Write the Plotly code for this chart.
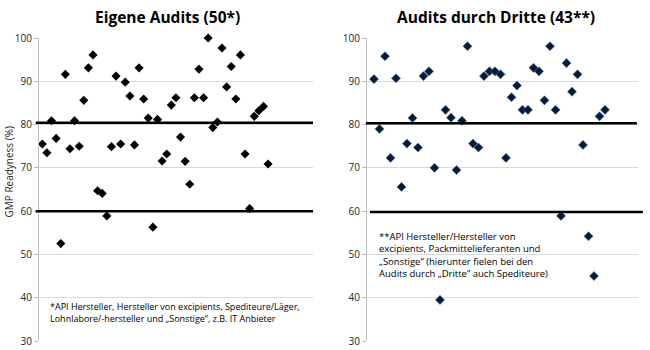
import plotly.graph_objects as go

# ---- data ----
eigene_values = [75.5, 73.5, 80.9, 76.8, 52.5, 91.6, 74.4, 80.9, 75.0, 85.6,
                 93.1, 96.1, 64.7, 64.1, 58.9, 74.9, 91.2, 75.5, 89.8, 86.6,
                 75.3, 93.1, 85.9, 81.5, 56.3, 81.2, 71.6, 73.2, 84.5, 86.2,
                 77.1, 71.5, 66.2, 86.2, 92.8, 86.2, 100.0, 79.3, 80.6, 97.7,
                 88.7, 93.4, 85.9, 96.1, 73.2, 60.6, 81.9, 83.2, 84.2, 70.9]
dritte_values = [90.5, 79.0, 95.8, 72.3, 90.7, 65.6, 75.6, 81.5, 74.7, 91.2,
                 92.3, 70.0, 39.5, 83.4, 81.6, 69.5, 80.9, 98.1, 75.6, 74.7,
                 91.2, 92.3, 92.3, 91.6, 72.3, 86.3, 89.0, 83.4, 83.4, 93.1,
                 92.3, 85.6, 98.1, 83.4, 58.9, 94.2, 87.6, 91.6, 75.3, 54.2,
                 45.0, 81.9, 83.4]
eigene_x = list(range(1, len(eigene_values) + 1))
dritte_x = list(range(1, len(dritte_values) + 1))
threshold_upper = [80.4, 80.3]
threshold_lower = [60.0, 59.8]
y_ticks = [30, 40, 50, 60, 70, 80, 90, 100]
titles = ["Eigene Audits (50*)", "Audits durch Dritte (43**)"]
y_title = "GMP Readyness (%)"
note_left = ("*API Hersteller, Hersteller von excipients, Spediteure/Läger,<br>"
             "Lohnlabore/-hersteller und „Sonstige“, z.B. IT Anbieter")
note_right = ("**API Hersteller/Hersteller von<br>excipients, Packmittelieferanten und<br>"
              "„Sonstige“ (hierunter fielen bei den<br>Audits durch „Dritte“ auch Spediteure)")

FONT = "Open Sans"
fig = go.Figure()
fig.add_trace(go.Scatter(x=eigene_x, y=eigene_values, mode="markers", xaxis="x", yaxis="y",
                         marker=dict(symbol="diamond", size=7, color="black"),
                         cliponaxis=False, showlegend=False))
fig.add_trace(go.Scatter(x=dritte_x, y=dritte_values, mode="markers", xaxis="x2", yaxis="y2",
                         marker=dict(symbol="diamond", size=7, color="#0b1a33",
                                     line=dict(color="#3a78c0", width=0.6)),
                         cliponaxis=False, showlegend=False))

W, H = 650, 350
ydom = [(350 - 341) / H, (350 - 38) / H]
xdom1 = [39 / W, 313 / W]
xdom2 = [367 / W, 638 / W]

yax = dict(range=[30, 100], tickvals=y_ticks, showgrid=True, gridcolor="#d9d9d9",
           gridwidth=1, showline=True, linecolor="#bfbfbf", linewidth=1,
           ticks="outside", ticklen=4, tickcolor="#bfbfbf", automargin=False,
           tickfont=dict(family=FONT, size=10, color="#262626"), zeroline=False,
           domain=ydom)
xax = dict(showgrid=False, showticklabels=False, zeroline=False, showline=False, ticks="",
           automargin=False)

fig.update_layout(
    width=W, height=H, margin=dict(l=0, r=0, t=0, b=0, autoexpand=False),
    paper_bgcolor="white", plot_bgcolor="white",
    xaxis=dict(xax, domain=xdom1, range=[0.28, 59.75]),
    xaxis2=dict(xax, domain=xdom2, range=[-0.27, 49.0]),
    yaxis=dict(yax, anchor="x"),
    yaxis2=dict(yax, anchor="x2"),
    font=dict(family=FONT),
)

# y-axis title (positioned like the reference)
fig.add_annotation(text=y_title, xref="paper", yref="paper", x=8.5 / W, y=1 - 172 / H,
                   xanchor="center", yanchor="middle", textangle=-90, showarrow=False,
                   font=dict(family=FONT, size=10, color="#262626"))

# threshold lines
for i, xr in enumerate(["x domain", "x2 domain"]):
    yr = "y" if i == 0 else "y2"
    ext = [(-0.012, 1.0), (-0.004, 0.996)][i]
    ext2 = [(-0.012, 1.0), (0.011, 1.018)][i]
    fig.add_shape(type="line", xref=xr, yref=yr, x0=ext[0], x1=ext[1],
                  y0=threshold_upper[i], y1=threshold_upper[i],
                  line=dict(color="black", width=2.5))
    fig.add_shape(type="line", xref=xr, yref=yr, x0=ext2[0], x1=ext2[1],
                  y0=threshold_lower[i], y1=threshold_lower[i],
                  line=dict(color="black", width=2.5))

# titles
fig.add_annotation(text="<b>" + titles[0] + "</b>", xref="paper", yref="paper",
                   x=167 / W, y=1 - 17 / H, xanchor="center", yanchor="middle",
                   showarrow=False, font=dict(family=FONT, size=15.5, color="black"))
fig.add_annotation(text="<b>" + titles[1] + "</b>", xref="paper", yref="paper",
                   x=496 / W, y=1 - 17 / H, xanchor="center", yanchor="middle",
                   showarrow=False, font=dict(family=FONT, size=15.5, color="black"))

# notes
fig.add_annotation(text=note_left, xref="paper", yref="paper", x=48 / W, y=1 - 298 / H,
                   xanchor="left", yanchor="top", align="left", showarrow=False,
                   font=dict(family=FONT, size=9, color="black"))
fig.add_annotation(text=note_right, xref="paper", yref="paper", x=377 / W, y=1 - 228 / H,
                   xanchor="left", yanchor="top", align="left", showarrow=False,
                   font=dict(family=FONT, size=9.5, color="black"))

fig.write_html("out.html")
